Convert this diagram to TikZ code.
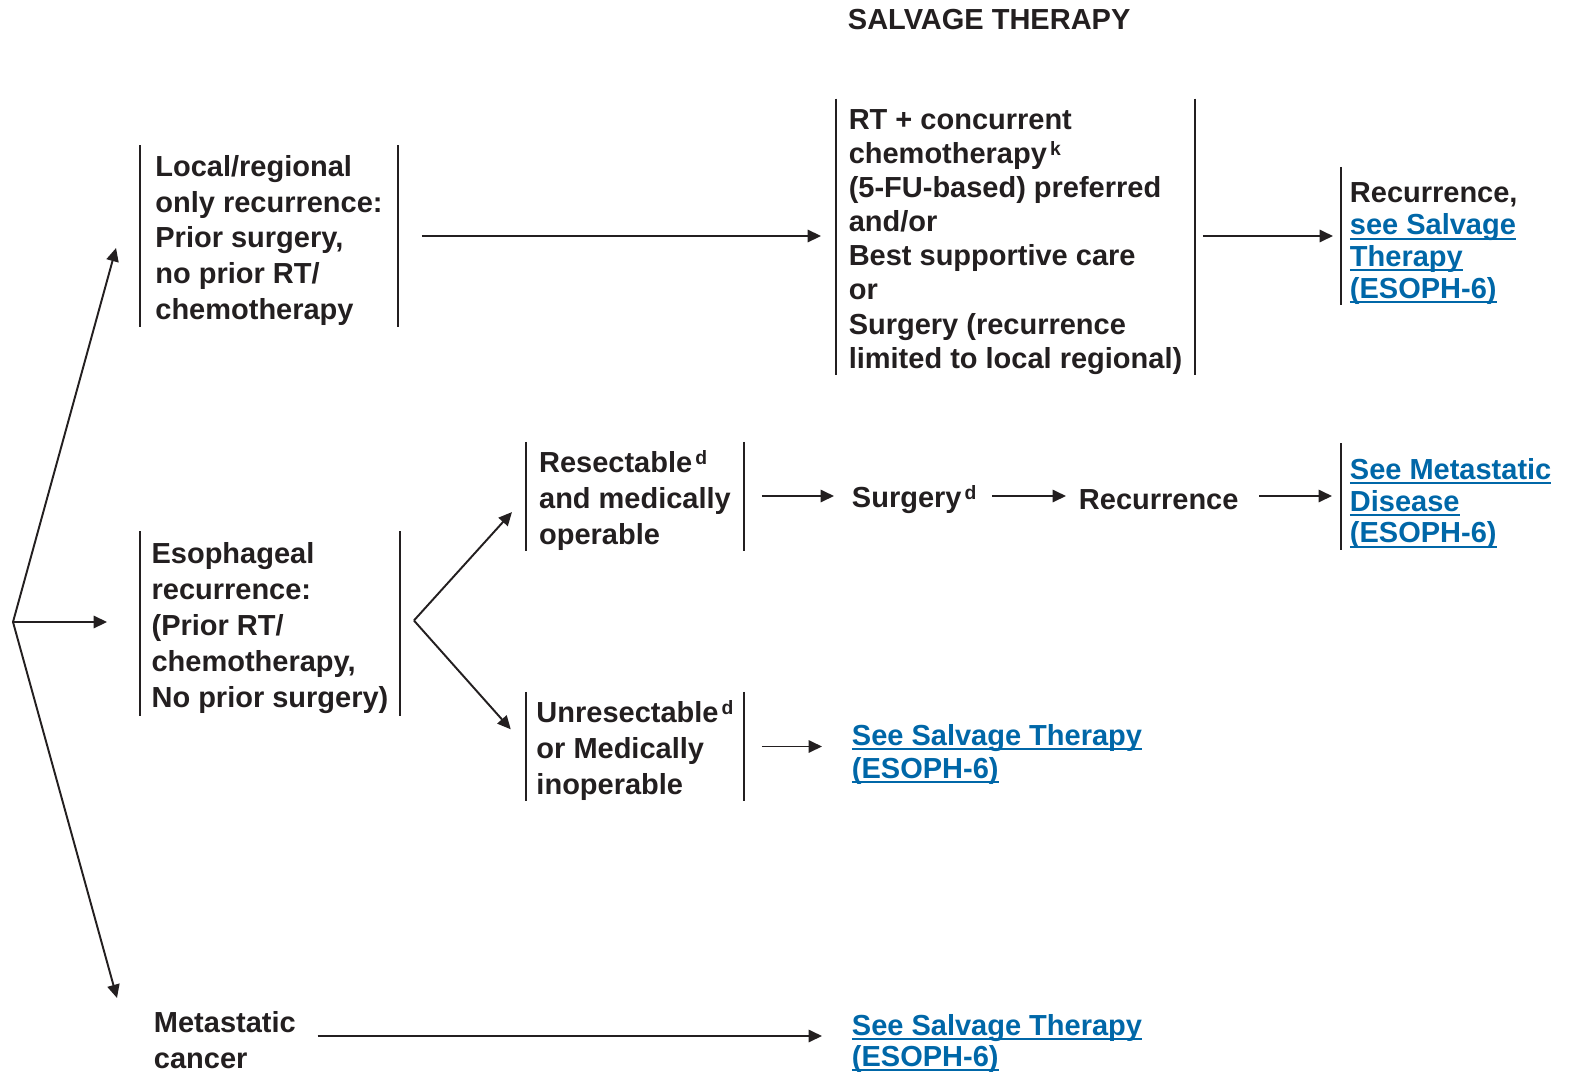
\documentclass[tikz,border=0pt]{standalone}
\usepackage{fontspec}
\setmainfont{Liberation Sans}
\usepackage{tikz}
\usetikzlibrary{calc,arrows.meta,positioning}
\definecolor{Ink}{RGB}{35,31,32}
\definecolor{LinkBlue}{RGB}{0,103,168}
\newsavebox{\lnkbox}
\newcommand{\lnk}[1]{{\color{LinkBlue}\sbox{\lnkbox}{#1}\rlap{\rule[-2.8pt]{\wd\lnkbox}{1.1pt}}\usebox{\lnkbox}}}
\newcommand{\fnmark}[1]{\kern1.8pt\raisebox{4.6pt}{\fontsize{11pt}{12pt}\selectfont #1}}
\newcommand{\toprise}[1][17pt]{\rule{0pt}{#1}}

\begin{document}
\begin{tikzpicture} [x=0.02cm, y=-0.02cm, >={Triangle[length=7.6pt,width=7pt]},
	   Ink, text=Ink, line width=1.1pt,
	   every node/.style={font=\fontsize{16.5pt}{20.4pt}\selectfont\bfseries, inner ysep=0pt},
	   barbox/.style 2 args = {align=left, minimum width=#1, minimum height=#2, inner xsep=0pt},
	   tight/.style = {font=\fontsize{16.5pt}{19.4pt}\selectfont\bfseries},
	   linkbox/.style = {align=left, anchor=west, inner xsep=0.16cm,
	                     font=\fontsize{16.5pt}{18.1pt}\selectfont\bfseries},
	   plain/.style = {align=left, anchor=west, inner xsep=0pt},
	   bar/.style = {line width=1.6pt}]
	\useasboundingbox (0,0) rectangle (1573,1072);
	%% Heading
	\node [plain] (title) at (847,15) {\toprise SALVAGE THERAPY};
	%% Split point
	\coordinate (fork) at (13,622);

	%% Kinds of recurrence
	\node [barbox={5.12cm}{3.6cm}] (local) at (269,236)
	      {\toprise Local/regional\\only recurrence:\\Prior surgery,\\no prior RT/\\chemotherapy};
	\node [barbox={5.16cm}{3.66cm}] (esoph) at (270,623.5)
	      {\toprise Esophageal\\recurrence:\\(Prior RT/\\chemotherapy,\\No prior surgery)};
	\node [plain] (metcan) at (153,1036) {\toprise Metastatic\\cancer};

	%% Treatment
	\node [barbox={7.14cm}{5.44cm}, tight] (rtbox) at (1015.5,237)
	      {\toprise RT + concurrent\\chemotherapy\fnmark{k}\\(5-FU-based) preferred\\and/or\\Best supportive care\\or\\Surgery (recurrence\\limited to local regional)};
	\node [barbox={4.32cm}{2.02cm}] (resect) at (635,496.5)
	      {\toprise Resectable\fnmark{d}\\and medically\\operable};
	\node [barbox={4.32cm}{2.02cm}] (unres) at (635,746.5)
	      {\toprise Unresectable\fnmark{d}\\or Medically\\inoperable};
	\node [plain] (surg) at (851,496) {\toprise Surgery\fnmark{d}};
	\node [plain] (recur) at (1078,496) {\toprise[15pt]Recurrence};

	%% Links
	\node [linkbox, minimum height=2.68cm] (recbox) at (1341,236)
	      {\toprise[20pt]Recurrence,\\\lnk{see Salvage}\\\lnk{Therapy}\\\lnk{(ESOPH-6)}};
	\node [linkbox, minimum height=2.02cm] (metbox) at (1341,496.5)
	      {\toprise[20pt]\lnk{See Metastatic}\\\lnk{Disease}\\\lnk{(ESOPH-6)}};
	\node [plain, font=\fontsize{16.5pt}{18.7pt}\selectfont\bfseries] (salv1) at (851,750)
	      {\toprise\lnk{See Salvage Therapy}\\\lnk{(ESOPH-6)}};
	\node [plain, font=\fontsize{16.5pt}{17.6pt}\selectfont\bfseries] (salv2) at (851,1039)
	      {\toprise\lnk{See Salvage Therapy}\\\lnk{(ESOPH-6)}};

	%% Side bars
	\foreach \n in {local,esoph,rtbox,resect,unres,recbox,metbox}
		\draw [bar] (\n.north west) -- (\n.south west);
	\foreach \n in {local,esoph,rtbox,resect,unres}
		\draw [bar] (\n.north east) -- (\n.south east);

	%% Paths from the split point
	\draw [->] (fork) -- ($(local.west)+(-24,12)$);
	\draw [->, shorten >=0.66cm] (fork) -- (fork -| esoph.west);
	\draw [->] (fork) -- ($(metcan.west)+(-36,-38)$);

	%% Simple paths
	\draw [->, shorten <=0.48cm, shorten >=0.3cm] (local.east) -- (local.east -| rtbox.west);
	\draw [->, shorten <=0.16cm, shorten >=0.16cm] (rtbox.east |- recbox.west) -- (recbox.west);
	\coordinate (split) at ($(esoph.east)+(14,-3)$);
	\draw [->, shorten >=0.42cm] (split) -- (resect.west);
	\draw [->, shorten >=0.46cm] (split) -- (unres.west);
	\draw [->, shorten <=0.36cm, shorten >=0.34cm] (resect.east |- surg.west) -- (surg.west);
	\draw [->, shorten <=0.3cm, shorten >=0.24cm] (surg.east) -- (surg.east -| recur.west);
	\draw [->, shorten <=0.4cm, shorten >=0.18cm] (recur.east |- surg.east) -- (surg.east -| metbox.west);
	\draw [->, shorten <=0.36cm, shorten >=0.58cm] (unres.east) -- (unres.east -| salv1.west);
	\draw [->, shorten <=0.42cm, shorten >=0.58cm] (metcan.east) -- (metcan.east -| salv2.west);
\end{tikzpicture}
\end{document}
